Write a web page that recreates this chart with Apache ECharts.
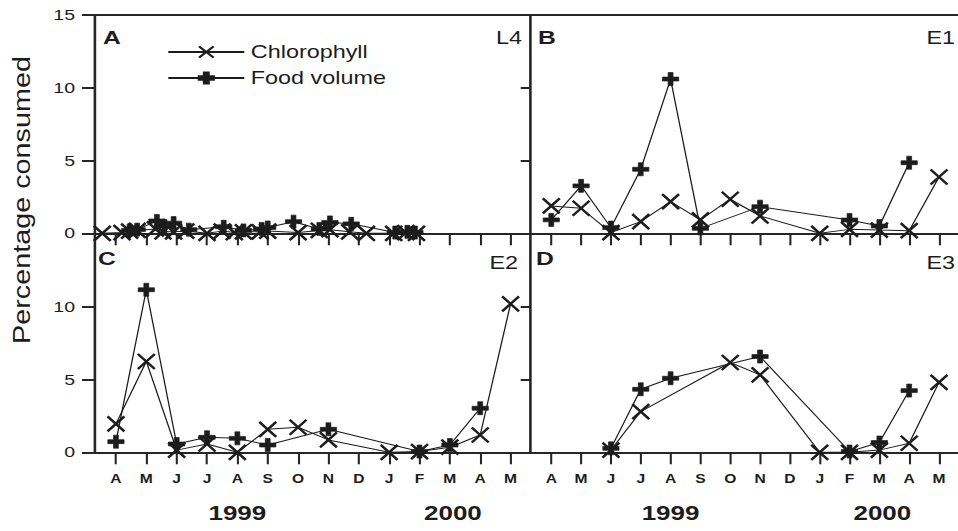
<!DOCTYPE html>
<html>
<head>
<meta charset="utf-8">
<script src="https://cdn.jsdelivr.net/npm/echarts@6.0.0/dist/echarts.min.js"></script>
<style>
  html, body { margin: 0; padding: 0; background: #fff; overflow: hidden; }
  #wrap { width: 958px; height: 531px; overflow: hidden; position: relative; }
  #chart { height: 531px; transform-origin: 0 0; }
</style>
</head>
<body>
<div id="wrap"><div id="chart"></div></div>
<script>
// Month ticks from April 1999 to May 2000 (index 0 = April 1999)
const months = ['A', 'M', 'J', 'J', 'A', 'S', 'O', 'N', 'D', 'J', 'F', 'M', 'A', 'M'];
const years = ['1999', '2000'];
const yearTickPos = [4, 11.1];

// Station L4 (frequent sampling): [month index, % consumed]
const l4Chlorophyll = [[-0.45, 0], [0.2, 0.05], [0.45, 0.15], [0.7, 0.2], [1.3, 0.3], [1.55, 0.1], [1.9, 0.1], [2.3, 0.15], [3.0, 0], [3.5, 0.15], [3.9, 0.05], [4.2, 0.1], [4.75, 0.1], [5.0, 0.15], [6.0, 0.05], [6.7, 0.2], [7.05, 0.25], [7.7, 0.1], [8.25, 0], [9.15, 0], [9.55, 0.05], [9.9, 0]];
const l4Food = [[0.45, 0.2], [0.7, 0.25], [1.35, 0.85], [1.6, 0.5], [1.9, 0.7], [2.4, 0.25], [3.55, 0.45], [4.2, 0.2], [4.8, 0.3], [5.0, 0.4], [5.85, 0.8], [6.7, 0.3], [7.05, 0.75], [7.75, 0.65], [9.2, 0.05], [9.6, 0.1], [9.85, 0.05]];

// Station E1
const e1Chlorophyll = [[0, 1.88], [1, 1.72], [2, 0.05], [3, 0.8], [4, 2.18], [5, 0.92], [6, 2.34], [7, 1.19], [9, 0], [10, 0.27], [11, 0.22], [12, 0.18], [13, 3.87]];
const e1Food = [[0, 0.92], [1, 3.26], [2, 0.39], [3, 4.4], [4, 10.6], [5, 0.34], [7, 1.83], [10, 0.91], [11, 0.5], [12, 4.85]];

// Station E2
const e2Chlorophyll = [[0, 1.95], [1, 6.24], [2, 0.15], [3, 0.57], [4, 0], [5, 1.58], [6, 1.72], [7, 0.85], [9, 0], [10, 0.05], [11, 0.35], [12, 1.19], [13, 10.2]];
const e2Food = [[0, 0.73], [1, 11.17], [2, 0.57], [3, 1.03], [4, 0.96], [5, 0.5], [7, 1.58], [10, 0.05], [11, 0.5], [12, 3.03]];

// Station E3
const e3Chlorophyll = [[2, 0.15], [3, 2.8], [6, 6.17], [7, 5.32], [9, 0], [10, 0], [11, 0.15], [12, 0.62], [13, 4.8]];
const e3Food = [[2, 0.27], [3, 4.33], [4, 5.09], [7, 6.58], [10, 0.05], [11, 0.67], [12, 4.24]];

// The figure is drawn in a narrower coordinate space and stretched horizontally.
const S = 1.3;
const W = 958 / S;
const px = x => x / S;
const chartEl = document.getElementById('chart');
chartEl.style.width = W + 'px';
chartEl.style.transform = 'scaleX(' + S + ')';

const INK = '#1c1c1c';
const AXIS = '#262626';
const SANS = "'Liberation Sans', Arial, Helvetica, sans-serif";
const X_MIN = -0.69, X_MAX = 13.64;
const monthIdx = months.map((m, i) => i);

const crossSymbol = 'path://M0,0L10,10M10,0L0,10';
const plusSymbol = 'path://M3.5,0H6.5V3.5H10V6.5H6.5V10H3.5V6.5H0V3.5H3.5Z';

const grids = [
  { left: px(95), width: px(435), top: 15, height: 218.3 },      // A  L4
  { left: px(530.7), width: px(436.5), top: 15, height: 218.3 }, // B  E1
  { left: px(95), width: px(435), top: 234, height: 218.3 },     // C  E2
  { left: px(530.7), width: px(436.5), top: 234, height: 218.3 } // D  E3
];

function monthAxis(gridIndex, showLabels) {
  return {
    type: 'value', gridIndex, min: X_MIN, max: X_MAX, position: 'bottom',
    axisLine: { show: true, onZero: false, lineStyle: { color: AXIS, width: 2 } },
    axisTick: { show: true, customValues: monthIdx, length: 12, lineStyle: { color: AXIS, width: 1.6 } },
    axisLabel: {
      show: showLabels, customValues: monthIdx, margin: 20,
      formatter: v => months[Math.round(v)],
      color: INK, fontFamily: SANS, fontWeight: 'bold', fontSize: 12
    },
    splitLine: { show: false }
  };
}
function topBorder(gridIndex) {
  return {
    type: 'value', gridIndex, min: X_MIN, max: X_MAX, position: 'top',
    axisLine: { show: true, onZero: false, lineStyle: { color: AXIS, width: 2 } },
    axisTick: { show: false }, axisLabel: { show: false }, splitLine: { show: false }
  };
}
function yearAxis(gridIndex) {
  return {
    type: 'value', gridIndex, min: X_MIN, max: X_MAX, position: 'bottom',
    axisLine: { show: false, onZero: false }, axisTick: { show: false }, splitLine: { show: false },
    axisLabel: {
      show: true, customValues: yearTickPos, margin: 51,
      formatter: v => (v < 8 ? years[0] : years[1]),
      color: INK, fontFamily: SANS, fontWeight: 'bold', fontSize: 20
    }
  };
}
function pctAxis(gridIndex, labels, hideMax, tickLen) {
  return {
    type: 'value', gridIndex, min: 0, max: 15, interval: 5,
    axisLine: { show: true, onZero: false, lineStyle: { color: AXIS, width: 2 } },
    axisTick: { show: true, inside: false, length: tickLen, lineStyle: { color: AXIS, width: 2 } },
    axisLabel: {
      show: labels, margin: px(20), showMaxLabel: !hideMax,
      color: INK, fontFamily: SANS, fontSize: 15
    },
    splitLine: { show: false }
  };
}

function chlSeries(i, data) {
  return {
    name: 'Chlorophyll', type: 'line', xAxisIndex: i, yAxisIndex: i, data,
    symbol: crossSymbol, symbolSize: [13, 15], clip: false,
    lineStyle: { color: INK, width: 1 },
    itemStyle: { color: 'transparent', borderColor: INK, borderWidth: 2.2 },
    emphasis: { disabled: true }, z: 3
  };
}
function foodSeries(i, data) {
  return {
    name: 'Food volume', type: 'line', xAxisIndex: i, yAxisIndex: i, data,
    symbol: plusSymbol, symbolSize: [12.5, 13], clip: false,
    lineStyle: { color: INK, width: 1 },
    itemStyle: { color: INK, borderColor: INK, borderWidth: 0.6 },
    emphasis: { disabled: true }, z: 4
  };
}

function panelText(text, x, y, align, bold) {
  return {
    type: 'text', x: px(x), y,
    style: {
      text, fill: INK, textAlign: align, textVerticalAlign: 'middle',
      font: (bold ? 'bold ' : '') + (bold ? 19 : 18) + 'px ' + SANS
    }
  };
}

const option = {
  animation: false,
  backgroundColor: '#fff',
  grid: grids,
  xAxis: [
    monthAxis(0, false), monthAxis(1, false), monthAxis(2, true), monthAxis(3, true),
    topBorder(0), topBorder(1),
    yearAxis(2), yearAxis(3)
  ],
  yAxis: [
    pctAxis(0, true, false, px(13)), pctAxis(1, false, false, px(10)),
    pctAxis(2, true, true, px(13)), pctAxis(3, false, true, px(10))
  ],
  legend: {
    data: ['Chlorophyll', 'Food volume'], orient: 'vertical',
    left: px(167), top: 43, itemWidth: px(76), itemHeight: 14, itemGap: 8,
    padding: 0, selectedMode: false,
    textStyle: { color: INK, fontFamily: SANS, fontSize: 18 }
  },
  series: [
    chlSeries(0, l4Chlorophyll), foodSeries(0, l4Food),
    chlSeries(1, e1Chlorophyll), foodSeries(1, e1Food),
    chlSeries(2, e2Chlorophyll), foodSeries(2, e2Food),
    chlSeries(3, e3Chlorophyll), foodSeries(3, e3Food)
  ],
  graphic: [
    panelText('A', 103, 38, 'left', true),
    panelText('L4', 522, 38, 'right', false),
    panelText('B', 538, 38, 'left', true),
    panelText('E1', 955, 38, 'right', false),
    panelText('C', 98, 259, 'left', true),
    panelText('E2', 518, 263, 'right', false),
    panelText('D', 536, 259, 'left', true),
    panelText('E3', 955, 263, 'right', false),
    {
      type: 'text', x: px(22), y: 200, rotation: Math.PI / 2, scaleX: 1.6,
      style: {
        text: 'Percentage consumed', fill: INK, textAlign: 'center', textVerticalAlign: 'middle',
        font: '18px ' + SANS
      }
    }
  ]
};

const chart = echarts.init(chartEl, null, { renderer: 'svg' });
chart.setOption(option);
</script>
</body>
</html>
